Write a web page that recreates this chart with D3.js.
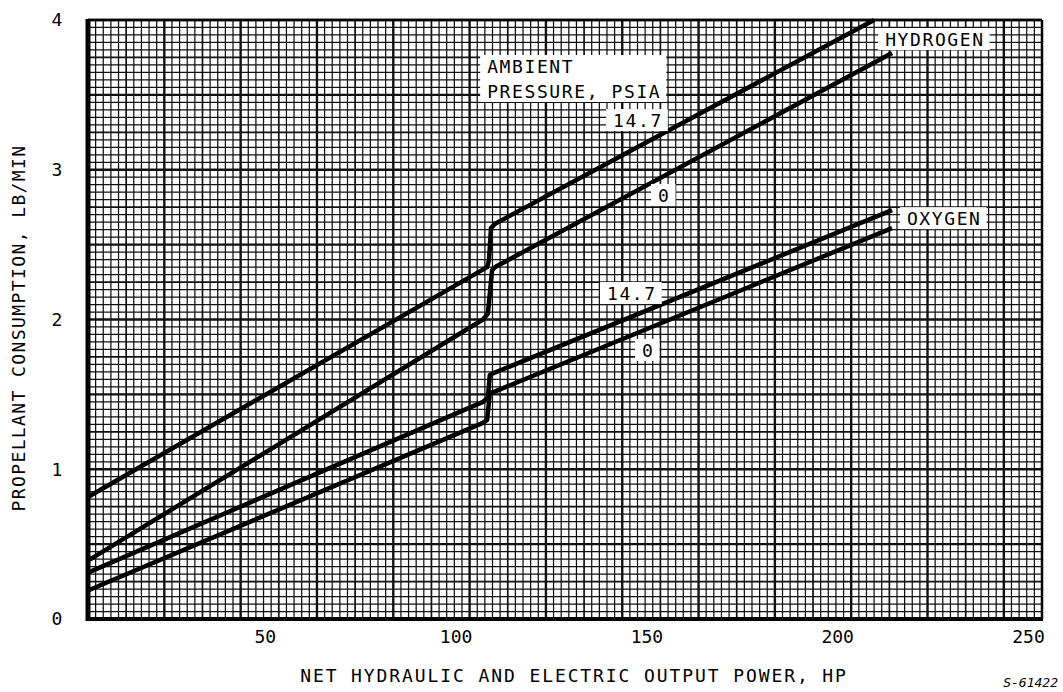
<!DOCTYPE html>
<meta charset="utf-8">
<script src="https://d3js.org/d3.v7.min.js"></script>
<style>
  body { margin: 0; background: #fff; }
  text { font-family: "DejaVu Sans Mono", monospace; fill: #000; }
</style>
<div id="chart"></div>
<script>
// tick labels
const hpTicks = [50, 100, 150, 200, 250];
const lbTicks = [0, 1, 2, 3, 4];

// curves: [hp, lb/min]
const hydrogen147 = [[0, 0.815], [104.6, 2.35], [105.1, 2.40], [105.6, 2.61], [106.7, 2.64], [206, 4.0]];
const hydrogen0   = [[0, 0.39], [103.5, 2.00], [104.8, 2.04], [105.9, 2.33], [106.7, 2.35], [210.7, 3.78]];
const oxygen147   = [[0, 0.31], [103.5, 1.45], [104.8, 1.48], [105.3, 1.63], [106.1, 1.64], [210.7, 2.73]];
const oxygen0     = [[0, 0.19], [103.5, 1.31], [104.6, 1.33], [105.3, 1.51], [106.7, 1.52], [210.7, 2.61]];
const curves = [hydrogen147, hydrogen0, oxygen147, oxygen0];

// labels on the plot, placed in data units (left edge, baseline)
const notes = [
  {lines: ["AMBIENT", "PRESSURE, PSIA"], x: 104.6, y: 3.646},
  {lines: ["14.7"], x: 137.6, y: 3.285},
  {lines: ["0"], x: 149.4, y: 2.785},
  {lines: ["14.7"], x: 136.0, y: 2.13},
  {lines: ["0"], x: 145.2, y: 1.75},
  {lines: ["HYDROGEN"], x: 208.9, y: 3.826},
  {lines: ["OXYGEN"], x: 214.6, y: 2.63}
];

const margin = {top: 20, right: 21, bottom: 73, left: 88},
  width = 1063 - margin.left - margin.right,
  height = 692 - margin.top - margin.bottom;

const svg = d3.select("#chart")
  .append("svg")
    .attr("width", 1063)
    .attr("height", 692)
  .append("g")
    .attr("transform", `translate(${margin.left},${margin.top})`);

const x = d3.scaleLinear().domain([0, 250]).range([0, width]);
const y = d3.scaleLinear().domain([0, 4]).range([height, 0]);

// graph paper
const vLines = d3.range(0, 126).map(i => ({v: i * 2, i}));
const hLines = d3.range(0, 81).map(i => ({v: i * 0.05, i}));
const weight = i => i % 10 === 0 ? 2.4 : (i % 5 === 0 ? 1.7 : 1.25);

svg.append("g").selectAll("line")
  .data(vLines)
  .join("line")
    .attr("x1", d => x(d.v)).attr("x2", d => x(d.v))
    .attr("y1", 0).attr("y2", height)
    .attr("stroke", "#111")
    .attr("stroke-width", d => weight(d.i));

svg.append("g").selectAll("line")
  .data(hLines)
  .join("line")
    .attr("y1", d => y(d.v)).attr("y2", d => y(d.v))
    .attr("x1", 0).attr("x2", width)
    .attr("stroke", "#111")
    .attr("stroke-width", d => weight(d.i));

// frame
svg.append("line").attr("x1", 0).attr("x2", width).attr("y1", 0).attr("y2", 0)
  .attr("stroke", "#000").attr("stroke-width", 2.5);
svg.append("line").attr("x1", width).attr("x2", width).attr("y1", 0).attr("y2", height)
  .attr("stroke", "#000").attr("stroke-width", 2.5);
svg.append("line").attr("x1", 0).attr("x2", 0).attr("y1", -1).attr("y2", height + 2)
  .attr("stroke", "#000").attr("stroke-width", 5);
svg.append("line").attr("x1", -2).attr("x2", width + 1).attr("y1", height).attr("y2", height)
  .attr("stroke", "#000").attr("stroke-width", 4);

// curves
const line = d3.line().x(d => x(d[0])).y(d => y(d[1]));
svg.append("g").selectAll("path")
  .data(curves)
  .join("path")
    .attr("d", line)
    .attr("fill", "none")
    .attr("stroke", "#000")
    .attr("stroke-width", 4.5)
    .attr("stroke-linejoin", "round")
    .attr("stroke-linecap", "butt");

// labels with white boxes
notes.forEach(n => {
  const g = svg.append("g");
  g.selectAll("text")
    .data(n.lines)
    .join("text")
      .attr("x", x(n.x))
      .attr("y", (d, i) => y(n.y) + i * 25)
      .style("font-size", "18px")
      .style("letter-spacing", "1.6px")
      .text(d => d);
  const b = g.node().getBBox();
  g.insert("rect", "text")
    .attr("x", b.x - 7)
    .attr("y", b.y - 1)
    .attr("width", b.width + 12)
    .attr("height", b.height + 1)
    .attr("fill", "#fff");
});

// axes
const yAxis = svg.append("g")
  .call(d3.axisLeft(y).tickValues(lbTicks).tickSize(0).tickFormat(d3.format("d")));
yAxis.select(".domain").remove();
yAxis.selectAll("text")
  .attr("x", -31)
  .attr("text-anchor", "middle")
  .style("font-size", "18px");

const xAxis = svg.append("g")
  .attr("transform", `translate(0,${height})`)
  .call(d3.axisBottom(x).tickValues(hpTicks).tickSize(0).tickFormat(d3.format("d")));
xAxis.select(".domain").remove();
xAxis.selectAll("text")
  .attr("y", 24)
  .attr("dy", 0)
  .attr("dx", -14)
  .style("font-size", "18px");

// axis titles
svg.append("text")
  .attr("x", 574 - margin.left)
  .attr("y", height + 63)
  .attr("text-anchor", "middle")
  .style("font-size", "18px")
  .style("letter-spacing", "1.9px")
  .text("NET HYDRAULIC AND ELECTRIC OUTPUT POWER, HP");

svg.append("text")
  .attr("transform", `translate(${25 - margin.left},${328 - margin.top}) rotate(-90)`)
  .attr("text-anchor", "middle")
  .style("font-size", "18px")
  .style("letter-spacing", "1.4px")
  .text("PROPELLANT CONSUMPTION, LB/MIN");

svg.append("text")
  .attr("x", 1058 - margin.left)
  .attr("y", 687 - margin.top)
  .attr("text-anchor", "end")
  .style("font-size", "13px")
  .style("font-style", "italic")
  .text("S-61422");
</script>
